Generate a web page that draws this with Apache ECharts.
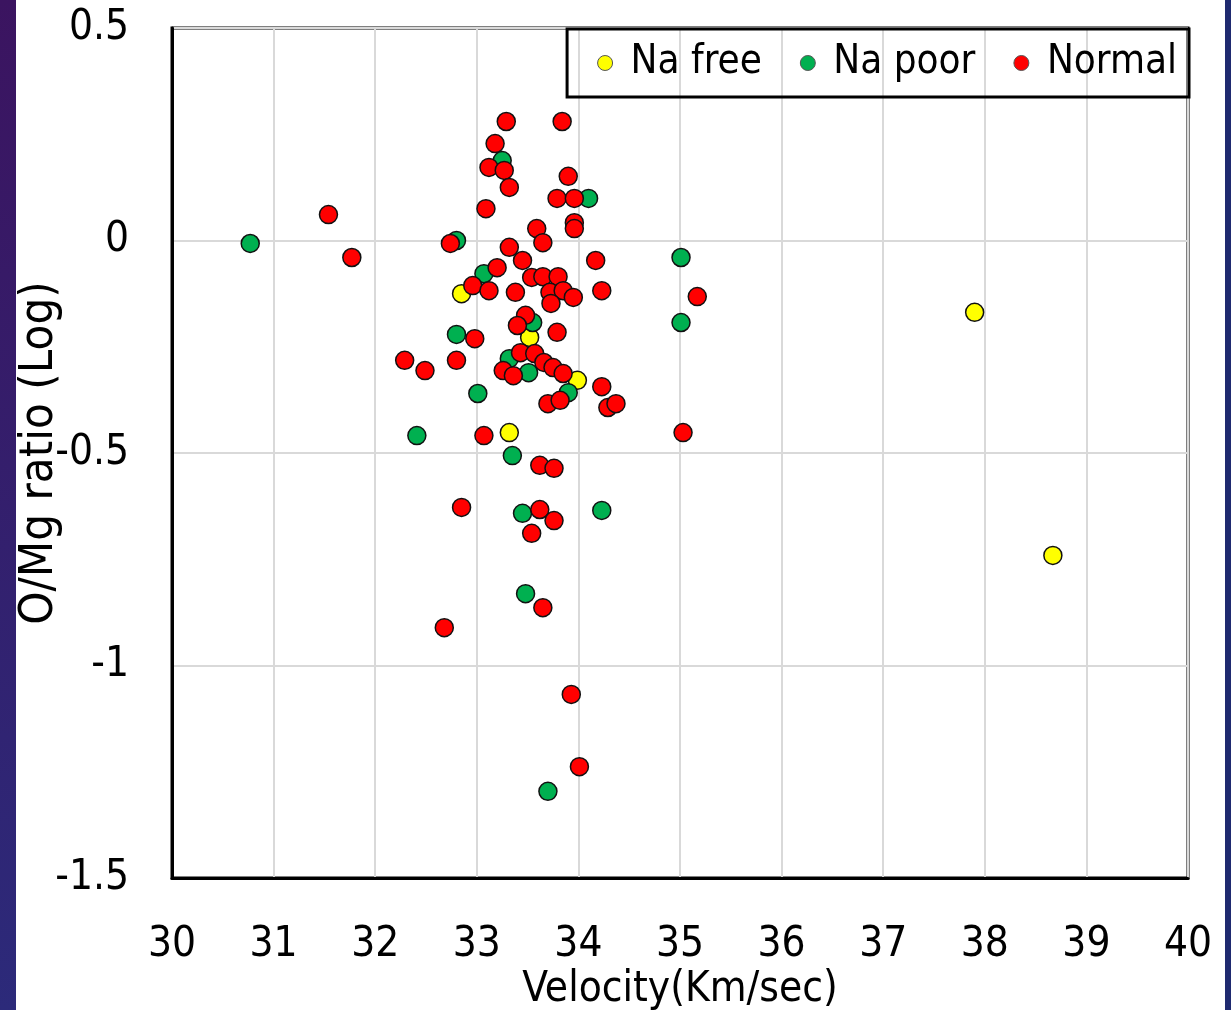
<!DOCTYPE html>
<html>
<head>
<meta charset="utf-8">
<script src="https://cdn.jsdelivr.net/npm/echarts@6/dist/echarts.min.js"></script>
<style>
  html, body { margin: 0; padding: 0; background: #fff; }
  #chart { width: 1231px; height: 1010px; }
</style>
</head>
<body>
<div id="chart"></div>
<script>
const seriesNames = ['Na free', 'Na poor', 'Normal'];
const seriesColors = ['#ffff00', '#00b050', '#ff0000'];

// [velocity, O/Mg log]
const naFree = [
  [32.85, -0.125], [33.52, -0.228], [33.99, -0.329], [33.32, -0.452],
  [37.90, -0.169], [38.67, -0.741]
];

const naPoor = [
  [30.77, -0.007], [32.80, 0.0], [33.07, -0.078], [32.80, -0.221],
  [33.01, -0.36], [32.41, -0.459], [33.35, -0.506], [33.45, -0.642],
  [34.23, -0.635], [33.48, -0.831], [33.70, -1.296], [35.01, -0.04],
  [35.01, -0.193], [34.10, 0.099], [33.25, 0.188], [33.55, -0.193],
  [33.51, -0.311], [33.32, -0.278], [33.90, -0.358]
];

const normal = [
  [33.29, 0.28], [33.84, 0.28], [33.18, 0.228], [33.12, 0.172],
  [33.27, 0.165], [33.32, 0.125], [33.90, 0.151], [33.79, 0.099],
  [33.96, 0.099], [33.96, 0.042], [33.96, 0.028], [33.09, 0.075],
  [32.74, -0.007], [33.59, 0.028], [33.65, -0.005], [33.32, -0.016],
  [33.45, -0.047], [33.20, -0.064], [34.17, -0.047], [33.54, -0.087],
  [33.65, -0.085], [33.80, -0.085], [32.96, -0.106], [33.12, -0.118],
  [33.38, -0.122], [33.72, -0.122], [33.85, -0.118], [33.95, -0.134],
  [33.73, -0.148], [34.23, -0.118], [33.48, -0.176], [33.40, -0.2],
  [33.79, -0.216], [32.98, -0.231], [33.43, -0.264], [33.57, -0.266],
  [33.66, -0.287], [33.75, -0.299], [33.85, -0.313], [33.26, -0.306],
  [33.36, -0.318], [32.29, -0.282], [32.49, -0.306], [32.80, -0.282],
  [34.23, -0.344], [34.29, -0.393], [34.37, -0.384], [33.70, -0.384],
  [33.82, -0.376], [33.07, -0.459], [33.62, -0.529], [33.76, -0.536],
  [32.85, -0.628], [33.62, -0.633], [33.76, -0.659], [33.54, -0.689],
  [33.65, -0.864], [32.68, -0.911], [31.54, 0.061], [31.77, -0.04],
  [35.17, -0.132], [35.03, -0.452], [33.93, -1.068], [34.01, -1.238]
];

const seriesData = [naFree, naPoor, normal];

const xMin = 30, xMax = 40, xStep = 1;
const yMin = -1.5, yMax = 0.5, yStep = 0.5;

const font = '"Liberation Sans Narrow", "DejaVu Sans Condensed", "Liberation Sans", sans-serif';

const chart = echarts.init(document.getElementById('chart'));

const option = {
  backgroundColor: '#fff',
  animation: false,
  graphic: [
    {
      type: 'rect', left: 0, top: 0, shape: { width: 16, height: 1010 },
      style: {
        fill: new echarts.graphic.LinearGradient(0, 0, 0, 1, [
          { offset: 0, color: '#3b1460' },
          { offset: 1, color: '#2c2a7a' }
        ])
      }
    },
    {
      type: 'rect', right: 0, top: 0, shape: { width: 6, height: 1010 },
      style: { fill: '#1f2a70' }
    }
  ],
  grid: {
    left: 172, right: 43, top: 28, bottom: 132,
    outerBoundsMode: 'none',
    containLabel: false,
    show: true, borderColor: '#000', borderWidth: 3
  },
  legend: {
    data: seriesNames,
    right: 42, top: 29,
    orient: 'horizontal',
    icon: 'circle',
    itemWidth: 15, itemHeight: 15,
    itemGap: 38,
    padding: [14, 12, 14, 30],
    borderColor: '#000', borderWidth: 3,
    textStyle: { fontFamily: font, fontSize: 40, color: '#000', padding: [0, 0, 0, 13] },
    itemStyle: { borderColor: '#555', borderWidth: 1 }
  },
  xAxis: {
    type: 'value',
    min: xMin, max: xMax, interval: xStep,
    name: 'Velocity(Km/sec)',
    nameLocation: 'middle',
    nameGap: 91,
    nameMoveOverlap: false,
    nameTextStyle: { fontFamily: font, fontSize: 42, color: '#000' },
    axisLine: { show: true, onZero: false, lineStyle: { color: '#000', width: 3 } },
    axisTick: { show: false },
    axisLabel: { fontFamily: font, fontSize: 42, color: '#000', margin: 46 },
    splitLine: { show: true, lineStyle: { color: '#d9d9d9', width: 2 } }
  },
  yAxis: {
    type: 'value',
    min: yMin, max: yMax, interval: yStep,
    name: 'O/Mg ratio (Log)',
    nameLocation: 'middle',
    nameGap: 109,
    nameMoveOverlap: false,
    nameRotate: 90,
    nameTextStyle: { fontFamily: font, fontSize: 47, color: '#000' },
    axisLine: { show: true, onZero: false, lineStyle: { color: '#000', width: 3 } },
    axisTick: { show: false },
    axisLabel: { fontFamily: font, fontSize: 42, color: '#000', margin: 43, padding: [10, 0, 0, 0] },
    splitLine: { show: true, lineStyle: { color: '#d9d9d9', width: 2 } }
  },
  series: seriesNames.map((name, i) => ({
    name: name,
    type: 'scatter',
    data: seriesData[i],
    symbol: 'circle',
    symbolSize: 18,
    itemStyle: { color: seriesColors[i], borderColor: '#111', borderWidth: 1.5, opacity: 1 }
  }))
};

chart.setOption(option);
</script>
</body>
</html>
